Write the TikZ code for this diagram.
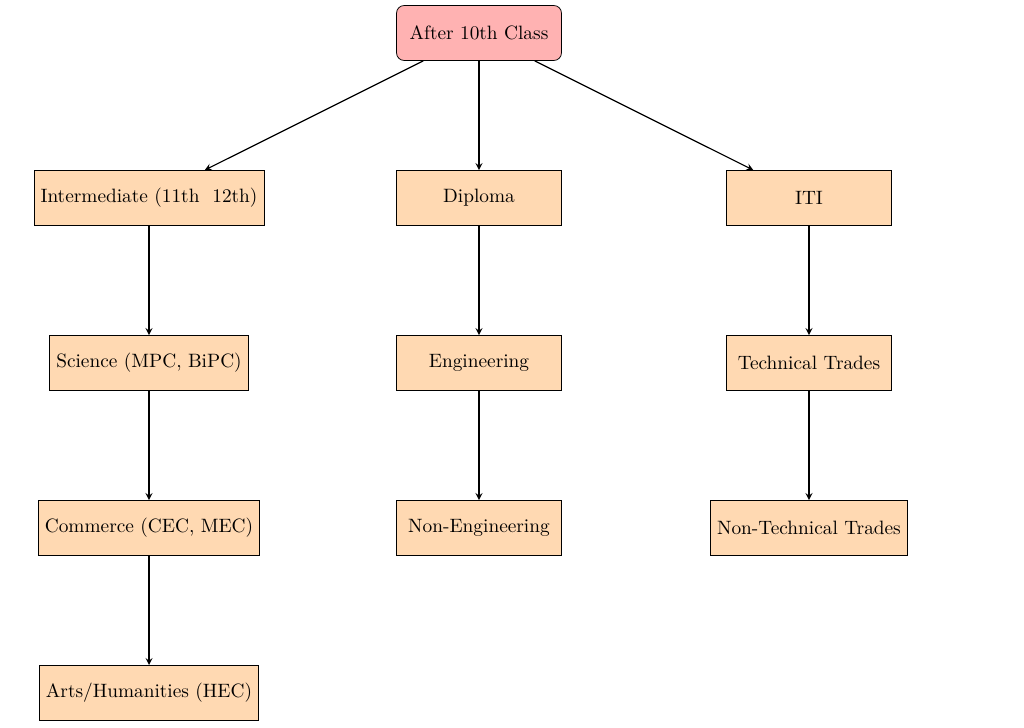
\documentclass[tikz,border=0pt]{standalone}
\usepackage{tikz}
\usetikzlibrary{arrows, shapes}

\begin{document}
\begin{tikzpicture}[
    topbox/.style={draw, rounded corners, fill=red!30, minimum width=3cm, minimum height=1cm},
    optbox/.style={draw, fill=orange!30, minimum width=3cm, minimum height=1cm},
    link/.style={->, >=stealth, semithick}
    ]
    \useasboundingbox (-8.71,0.6) rectangle (9.91,-12.62);
    
%____________________________________________________________________________________________________
    \node[topbox] (after10) at (0,0) {After 10th Class};
    
    \node[optbox] (inter) at (-6,-3) {Intermediate (11th~~12th)};
    \node[optbox] (diploma) at (0,-3) {Diploma};
    \node[optbox] (iti) at (6,-3) {ITI};
    
    \draw[link] (after10) -- (inter);
    \draw[link] (after10) -- (diploma);
    \draw[link] (after10) -- (iti);
%____________________________________________________________________________________________________
    \node[optbox] (science) at (-6,-6) {Science (MPC, BiPC)};
    \node[optbox] (commerce) at (-6,-9) {Commerce (CEC, MEC)};
    \node[optbox] (arts) at (-6,-12) {Arts/Humanities (HEC)};
    
    \draw[link] (inter) -- (science);
    \draw[link] (science) -- (commerce);
    \draw[link] (commerce) -- (arts);
%____________________________________________________________________________________________________
    \node[optbox] (engg) at (0,-6) {Engineering};
    \node[optbox] (nonengg) at (0,-9) {Non-Engineering};
    
    \draw[link] (diploma) -- (engg);
    \draw[link] (engg) -- (nonengg);
%____________________________________________________________________________________________________
    \node[optbox] (tech) at (6,-6) {Technical Trades};
    \node[optbox] (nontech) at (6,-9) {Non-Technical Trades};
    
    \draw[link] (iti) -- (tech);
    \draw[link] (tech) -- (nontech);
\end{tikzpicture}
\end{document}
